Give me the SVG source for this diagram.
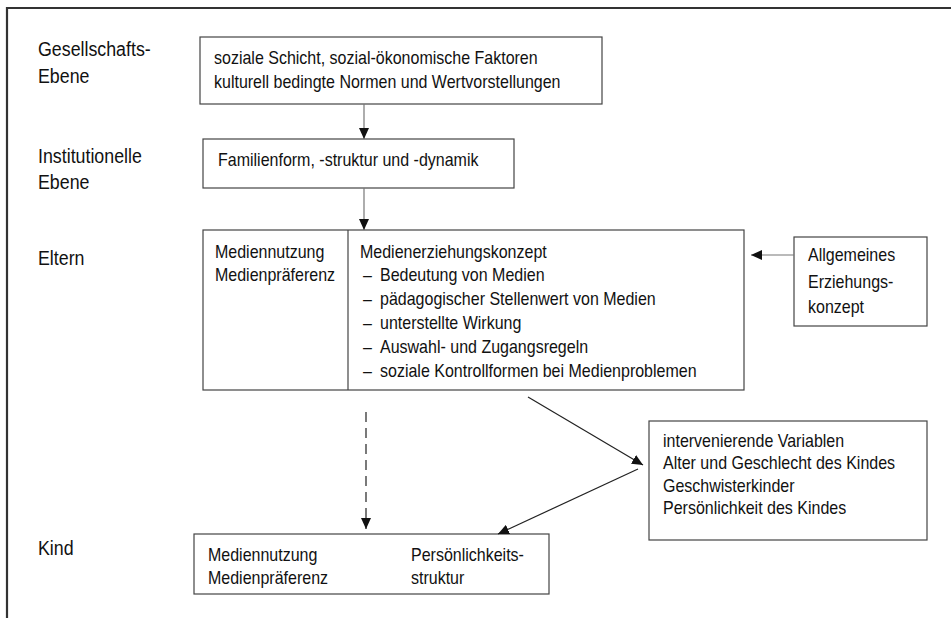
<svg xmlns="http://www.w3.org/2000/svg" width="951" height="618" viewBox="0 0 951 618">
<style>
text{font-family:"Liberation Sans",Arial,sans-serif;font-size:18px;fill:#111;transform-box:fill-box;transform-origin:left center;transform:scaleX(0.89)}
text.lab{font-size:20px}
.box{fill:#fff;stroke:#444;stroke-width:1.2}
.con{stroke:#222;stroke-width:1.2;fill:none}
.grey{stroke:#777}
</style>
<defs>
<marker id="ah" markerWidth="11" markerHeight="10" refX="11" refY="5" orient="auto" markerUnits="userSpaceOnUse">
<path d="M0,0 L11,5 L0,10 Z" fill="#111"/>
</marker>
</defs>
<rect width="951" height="618" fill="#fff"/>
<path d="M7,618 V8 H951" fill="none" stroke="#333" stroke-width="2.2"/>
<g id="labels">
<text class="lab" x="38" y="56">Gesellschafts-</text>
<text class="lab" x="38" y="83">Ebene</text>
<text class="lab" x="38" y="163">Institutionelle</text>
<text class="lab" x="38" y="189">Ebene</text>
<text class="lab" x="38" y="265">Eltern</text>
<text class="lab" x="38" y="555">Kind</text>
</g>
<g id="gesellschaft">
<rect class="box" x="200" y="37" width="402" height="67"/>
<text x="214" y="64">soziale Schicht, sozial-ökonomische Faktoren</text>
<text x="214" y="88">kulturell bedingte Normen und Wertvorstellungen</text>
</g>
<g id="familie">
<rect class="box" x="203" y="139" width="311" height="49"/>
<text x="218" y="166">Familienform, -struktur und -dynamik</text>
</g>
<g id="eltern">
<rect class="box" x="203" y="230" width="541" height="160"/>
<line x1="348" y1="230" x2="348" y2="390" stroke="#444" stroke-width="1.2"/>
<text x="215" y="258">Mediennutzung</text>
<text x="215" y="281">Medienpräferenz</text>
<text x="360" y="258">Medienerziehungskonzept</text>
<text x="363" y="281">–</text>
<text x="380" y="281">Bedeutung von Medien</text>
<text x="363" y="305">–</text>
<text x="380" y="305">pädagogischer Stellenwert von Medien</text>
<text x="363" y="329">–</text>
<text x="380" y="329">unterstellte Wirkung</text>
<text x="363" y="353">–</text>
<text x="380" y="353">Auswahl- und Zugangsregeln</text>
<text x="363" y="377">–</text>
<text x="380" y="377">soziale Kontrollformen bei Medienproblemen</text>
</g>
<g id="erziehung">
<rect class="box" x="794" y="237" width="133" height="89"/>
<text x="808" y="261">Allgemeines</text>
<text x="808" y="288">Erziehungs-</text>
<text x="808" y="313">konzept</text>
</g>
<g id="variablen">
<rect class="box" x="649" y="421" width="278" height="119"/>
<text x="663" y="447">intervenierende Variablen</text>
<text x="663" y="469">Alter und Geschlecht des Kindes</text>
<text x="663" y="492">Geschwisterkinder</text>
<text x="663" y="514">Persönlichkeit des Kindes</text>
</g>
<g id="kind">
<rect class="box" x="194" y="534" width="355" height="60"/>
<text x="208" y="561">Mediennutzung</text>
<text x="208" y="584">Medienpräferenz</text>
<text x="411" y="561">Persönlichkeits-</text>
<text x="411" y="584">struktur</text>
</g>
<g id="connectors">
<line class="con grey" x1="364" y1="104" x2="364" y2="139" marker-end="url(#ah)"/>
<line class="con grey" x1="364" y1="188" x2="364" y2="230" marker-end="url(#ah)"/>
<line class="con grey" x1="794" y1="255" x2="751" y2="255" marker-end="url(#ah)"/>
<line class="con" x1="366" y1="412" x2="366" y2="529" stroke-dasharray="10,6" marker-end="url(#ah)"/>
<line class="con" x1="528" y1="397" x2="643" y2="465" marker-end="url(#ah)"/>
<line class="con" x1="638" y1="469" x2="498" y2="534" marker-end="url(#ah)"/>
</g>
</svg>
